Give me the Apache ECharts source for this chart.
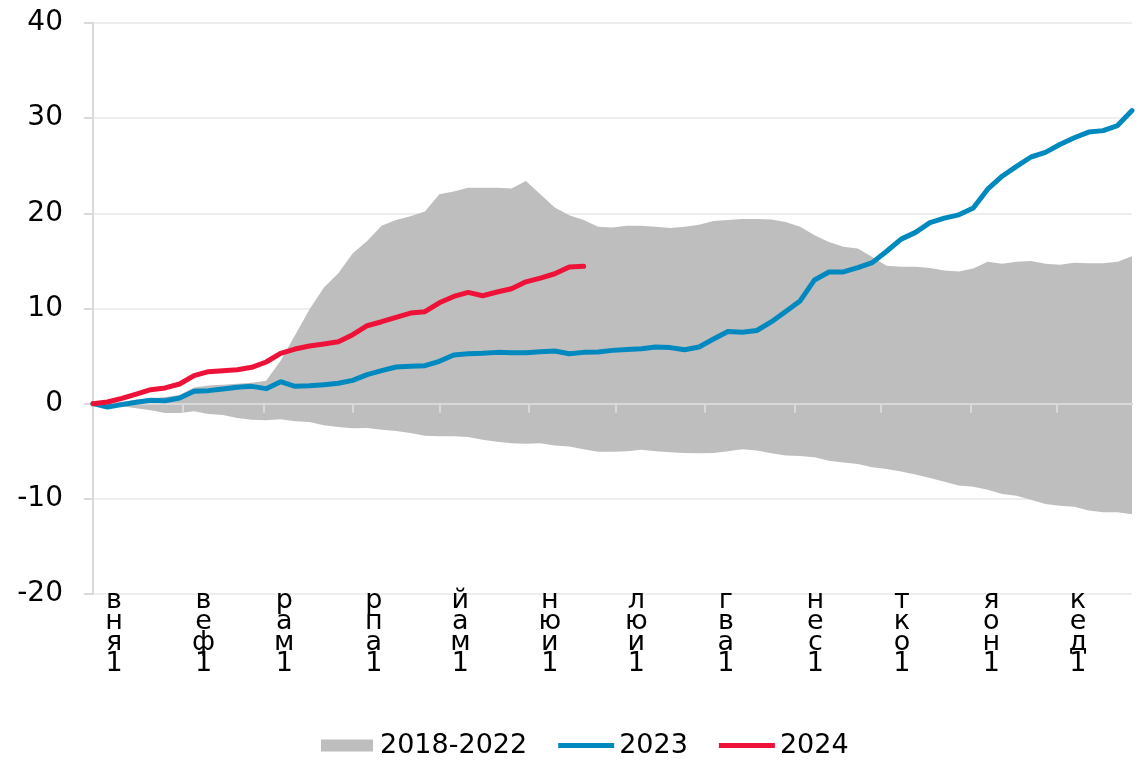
<!DOCTYPE html>
<html><head><meta charset="utf-8">
<script src="https://cdn.jsdelivr.net/npm/echarts@6/dist/echarts.min.js"></script>
<style>html,body{margin:0;padding:0;background:#fff}#c{width:1145px;height:760px}</style>
</head><body><div id="c"></div><script>
const DAYS = [0,5,10,15,20,25,30,35,40,45,50,55,60,65,70,75,80,85,90,95,100,105,110,115,120,125,130,135,140,145,150,155,160,165,170,175,180,185,190,195,200,205,210,215,220,225,230,235,240,245,250,255,260,265,270,275,280,285,290,295,300,305,310,315,320,325,330,335,340,345,350,355,360];
const BAND_LOW = [0,-0.1,-0.28,-0.49,-0.7,-0.98,-0.98,-0.8,-1.09,-1.19,-1.5,-1.68,-1.75,-1.65,-1.86,-1.93,-2.28,-2.45,-2.59,-2.56,-2.73,-2.87,-3.08,-3.36,-3.43,-3.43,-3.5,-3.78,-4.0,-4.15,-4.2,-4.15,-4.4,-4.5,-4.8,-5.05,-5.06,-4.99,-4.84,-4.99,-5.1,-5.18,-5.21,-5.18,-4.99,-4.8,-4.91,-5.21,-5.44,-5.51,-5.63,-6.0,-6.19,-6.34,-6.68,-6.86,-7.13,-7.43,-7.8,-8.21,-8.59,-8.74,-9.04,-9.49,-9.68,-10.09,-10.54,-10.73,-10.84,-11.22,-11.4,-11.4,-11.63];
const BAND_HIGH = [0,0.05,0.2,0.4,0.55,0.7,0.9,1.7,1.9,2.0,2.1,2.2,2.4,4.5,7.2,9.9,12.2,13.7,15.8,17.1,18.7,19.3,19.7,20.2,22.0,22.3,22.7,22.7,22.7,22.6,23.4,22.0,20.6,19.8,19.3,18.6,18.5,18.7,18.7,18.6,18.45,18.6,18.8,19.2,19.3,19.4,19.4,19.35,19.1,18.6,17.7,17.0,16.5,16.3,15.4,14.5,14.4,14.4,14.25,14.0,13.9,14.2,14.9,14.7,14.9,15.0,14.7,14.6,14.8,14.75,14.75,14.9,15.5];
const S2023 = [0,-0.35,-0.1,0.14,0.35,0.3,0.6,1.3,1.37,1.54,1.72,1.82,1.58,2.31,1.82,1.89,2.0,2.14,2.45,3.05,3.47,3.85,3.92,3.99,4.45,5.11,5.25,5.29,5.39,5.36,5.36,5.46,5.53,5.25,5.39,5.43,5.6,5.7,5.78,5.96,5.89,5.66,5.96,6.79,7.58,7.5,7.69,8.59,9.68,10.8,13.0,13.84,13.84,14.29,14.82,16.02,17.29,18.0,19.02,19.5,19.84,20.56,22.54,23.9,24.94,25.92,26.4,27.23,27.94,28.54,28.69,29.22,30.8];
const S2024 = [0,0.18,0.56,1.0,1.47,1.65,2.07,2.94,3.36,3.47,3.57,3.82,4.38,5.29,5.74,6.06,6.27,6.51,7.25,8.19,8.61,9.07,9.52,9.66,10.6,11.27,11.69,11.34,11.73,12.08,12.8,13.2,13.65,14.36,14.43];
const MONTH_TICKS = [0,31,59,90,120,151,181,212,243,273,304,334];
const MONTH_LABELS = ['вня1','веф1','рам1','рпа1','йам1','нюи1','люи1','гва1','нес1','тко1','яон1','кед1'];
const SERIES_NAMES = ['2018-2022','2023','2024'];

const pairs = (xs, ys) => ys.map((v, i) => [xs[i], v]);
const FONT = 'DejaVu Sans';
const GREY = '#bebebe', BLUE = '#0089bf', RED = '#ee1238';

const chart = echarts.init(document.getElementById('c'), null, {renderer: 'canvas'});
chart.setOption({
  animation: false,
  backgroundColor: '#ffffff',
  grid: {left: 93, right: 13, top: 23, bottom: 166, containLabel: false, outerBoundsMode: 'none'},
  legend: {
    left: 316, top: 727,
    itemWidth: 56, itemHeight: 12, itemGap: 31,
    textStyle: {fontFamily: FONT, fontSize: 27, color: '#000'},
    itemStyle: {borderWidth: 0},
    lineStyle: {width: 0},
    data: [
      {name: SERIES_NAMES[0], icon: 'path://M0,0H52V12H0Z', itemStyle: {color: GREY}},
      {name: SERIES_NAMES[1], icon: 'path://M0,0H56V5H0Z', itemStyle: {color: BLUE}},
      {name: SERIES_NAMES[2], icon: 'path://M0,0H56V5H0Z', itemStyle: {color: RED}}
    ]
  },
  xAxis: {
    type: 'value', min: 0, max: 360, z: 3,
    axisLine: {show: true, onZero: true, lineStyle: {color: '#d9d9d9', width: 2}},
    axisTick: {show: true, customValues: MONTH_TICKS, length: 9, lineStyle: {color: '#d9d9d9', width: 2}},
    axisLabel: {
      customValues: MONTH_TICKS,
      formatter: function (v) {
        const k = MONTH_TICKS.indexOf(v);
        return k < 0 ? '' : MONTH_LABELS[k].split('').join('\n');
      },
      margin: -4, fontFamily: FONT, fontSize: 27, lineHeight: 21, color: '#000',
      padding: [0, 0, 0, 42]
    },
    splitLine: {show: false}
  },
  yAxis: {
    type: 'value', min: -20, max: 40, interval: 10, z: 0,
    axisLine: {show: true, lineStyle: {color: '#d9d9d9', width: 2}},
    axisTick: {show: true, length: 9, lineStyle: {color: '#d9d9d9', width: 2}},
    axisLabel: {fontFamily: FONT, fontSize: 28, color: '#000', margin: 30},
    splitLine: {show: true, lineStyle: {color: '#eeeeee', width: 2}}
  },
  series: [
    {
      name: SERIES_NAMES[0], type: 'line',
      data: pairs(DAYS, BAND_HIGH), symbol: 'none', z: 1, silent: true,
      lineStyle: {width: 0, opacity: 0}, color: GREY,
      areaStyle: {color: GREY, opacity: 1, origin: 0}
    },
    {
      name: SERIES_NAMES[0], type: 'line',
      data: pairs(DAYS, BAND_LOW), symbol: 'none', z: 1, silent: true,
      lineStyle: {width: 0, opacity: 0}, color: GREY,
      areaStyle: {color: GREY, opacity: 1, origin: 0}
    },
    {
      name: SERIES_NAMES[1], type: 'line', data: pairs(DAYS, S2023), symbol: 'none', z: 4,
      color: BLUE,
      lineStyle: {width: 5, color: BLUE, cap: 'round', join: 'round'}
    },
    {
      name: SERIES_NAMES[2], type: 'line', data: pairs(DAYS, S2024), symbol: 'none', z: 5,
      color: RED,
      lineStyle: {width: 5, color: RED, cap: 'round', join: 'round'}
    }
  ]
});
</script></body></html>
